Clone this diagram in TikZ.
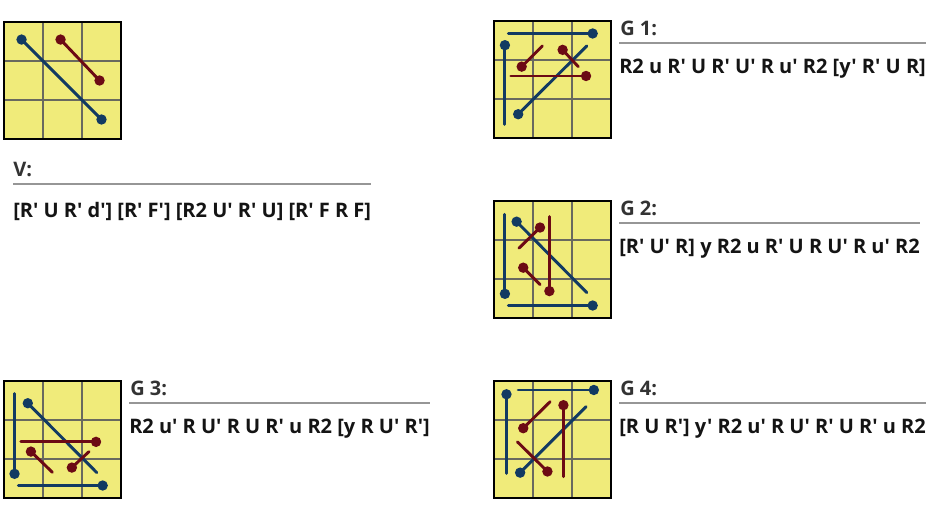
\documentclass[tikz,border=0pt]{standalone}
\usepackage{fontspec}
\setmainfont{Open Sans}[Ligatures=TeXOff]
\usepackage{tikz}

\definecolor{boardyellow}{RGB}{240,235,122}
\definecolor{gridgray}{RGB}{105,105,95}
\definecolor{stickblue}{RGB}{18,58,98}
\definecolor{stickred}{RGB}{108,10,20}
\definecolor{rulegray}{RGB}{150,150,150}

\begin{document}
\begin{tikzpicture}[x=0.75pt, y=-0.75pt, every node/.style={font=\fontsize{15}{18}\selectfont\bfseries, inner sep=0pt, anchor=base west},
	board/.style={draw=black, line width=1.5pt},
	gridln/.style={gridgray, line width=1.2pt},
	bl/.style={stickblue, line width=2.2pt, line cap=round},
	rd/.style={stickred, line width=2.2pt, line cap=round},
	bdot/.style={fill=stickblue},
	rdot/.style={fill=stickred},
	ttl/.style={text=black!80},
	mv/.style={text=black!92},
	sep/.style={rulegray, line width=0.8pt}]
	\useasboundingbox (0,0) rectangle (938,511);
	% boards with 3x3 grid
	\foreach \bx/\by in {4/22, 494/21, 494/201, 4/381, 494/381} {
		\begin{scope}[shift={(\bx,\by)}, x=29.25pt, y=-29.25pt]
			\fill[boardyellow] (0,0) rectangle (3,3);
			\foreach \i in {1,2} {\draw[gridln] (\i,0) -- (\i,3); \draw[gridln] (0,\i) -- (3,\i);}
			\draw[board] (0,0) rectangle (3,3);
		\end{scope}
	}
	% V
	\begin{scope}[shift={(4,22)}, x=29.25pt, y=-29.25pt]
		\draw[bl] (0.45,0.45) -- (2.5,2.5);
		\fill[bdot] (0.45,0.45) circle (3.9pt) (2.5,2.5) circle (3.9pt);
		\draw[rd] (1.45,0.45) -- (2.45,1.5);
		\fill[rdot] (1.45,0.45) circle (3.9pt) (2.45,1.5) circle (3.9pt);
	\end{scope}
	% G 1
	\begin{scope}[shift={(494,21)}, x=29.25pt, y=-29.25pt]
		\draw[bl] (0.37,0.32) -- (2.53,0.32);
		\draw[bl] (0.28,0.62) -- (0.28,2.65);
		\draw[bl] (0.62,2.39) -- (2.38,0.64);
		\draw[rd] (0.71,1.17) -- (1.24,0.64);
		\draw[rd] (1.76,0.74) -- (2.16,1.17);
		\draw[rd] (0.43,1.41) -- (2.36,1.41);
		\fill[bdot] (2.53,0.32) circle (3.9pt) (0.28,0.62) circle (3.9pt) (0.62,2.39) circle (3.9pt);
		\fill[rdot] (0.71,1.17) circle (3.9pt) (1.76,0.74) circle (3.9pt) (2.36,1.41) circle (3.9pt);
	\end{scope}
	% G 2
	\begin{scope}[shift={(494,201)}, x=29.25pt, y=-29.25pt]
		\draw[bl] (0.28,0.34) -- (0.28,2.38);
		\draw[bl] (0.37,2.68) -- (2.53,2.68);
		\draw[bl] (0.58,0.53) -- (2.38,2.35);
		\draw[rd] (1.18,0.68) -- (0.64,1.21);
		\draw[rd] (1.42,0.40) -- (1.42,2.31);
		\draw[rd] (0.75,1.71) -- (1.18,2.14);
		\fill[bdot] (0.28,2.38) circle (3.9pt) (2.53,2.68) circle (3.9pt) (0.58,0.53) circle (3.9pt);
		\fill[rdot] (1.18,0.68) circle (3.9pt) (1.42,2.31) circle (3.9pt) (0.75,1.71) circle (3.9pt);
	\end{scope}
	% G 3
	\begin{scope}[shift={(4,381)}, x=29.25pt, y=-29.25pt]
		\draw[bl] (0.27,0.32) -- (0.27,2.38);
		\draw[bl] (0.37,2.68) -- (2.53,2.68);
		\draw[bl] (0.61,0.57) -- (2.38,2.35);
		\draw[rd] (0.43,1.56) -- (2.36,1.56);
		\draw[rd] (0.69,1.81) -- (1.24,2.34);
		\draw[rd] (1.74,2.22) -- (2.18,1.81);
		\fill[bdot] (0.27,2.38) circle (3.9pt) (2.53,2.68) circle (3.9pt) (0.61,0.57) circle (3.9pt);
		\fill[rdot] (2.36,1.56) circle (3.9pt) (0.69,1.81) circle (3.9pt) (1.74,2.22) circle (3.9pt);
	\end{scope}
	% G 4
	\begin{scope}[shift={(494,381)}, x=29.25pt, y=-29.25pt]
		\draw[bl] (0.32,0.34) -- (0.32,2.37);
		\draw[bl] (0.62,0.23) -- (2.56,0.23);
		\draw[bl] (0.67,2.35) -- (2.36,0.66);
		\draw[rd] (0.75,1.21) -- (1.44,0.53);
		\draw[rd] (1.78,0.62) -- (1.78,2.45);
		\draw[rd] (0.6,1.56) -- (1.37,2.32);
		\fill[bdot] (0.32,0.34) circle (3.9pt) (2.56,0.23) circle (3.9pt) (0.67,2.35) circle (3.9pt);
		\fill[rdot] (0.75,1.21) circle (3.9pt) (1.78,0.62) circle (3.9pt) (1.37,2.32) circle (3.9pt);
	\end{scope}
	% labels and algorithms
	\node[ttl] (vttl) at (13,176) {V:};
	\node[mv] (vmv) at (13,217) {[R' U R' d'] [R' F'] [R2 U' R' U] [R' F R F]};
	\draw[sep] (vmv.west |- 0,184) -- (vmv.east |- 0,184);
	\node[ttl] (g1ttl) at (620,35) {G 1:};
	\node[mv] (g1mv) at (619,73) {R2 u R' U R' U' R u' R2 [y' R' U R]};
	\draw[sep] (g1mv.west |- 0,43) -- (g1mv.east |- 0,43);
	\node[ttl] (g2ttl) at (620,215) {G 2:};
	\node[mv] (g2mv) at (619,253) {[R' U' R] y R2 u R' U R U' R u' R2};
	\draw[sep] (g2mv.west |- 0,223) -- (g2mv.east |- 0,223);
	\node[ttl] (g3ttl) at (130,395) {G 3:};
	\node[mv] (g3mv) at (129,433) {R2 u' R U' R U R' u R2 [y R U' R']};
	\draw[sep] (g3mv.west |- 0,403) -- (g3mv.east |- 0,403);
	\node[ttl] (g4ttl) at (620,395) {G 4:};
	\node[mv] (g4mv) at (619,433) {[R U R'] y' R2 u' R U' R' U R' u R2};
	\draw[sep] (g4mv.west |- 0,403) -- (g4mv.east |- 0,403);
\end{tikzpicture}
\end{document}
